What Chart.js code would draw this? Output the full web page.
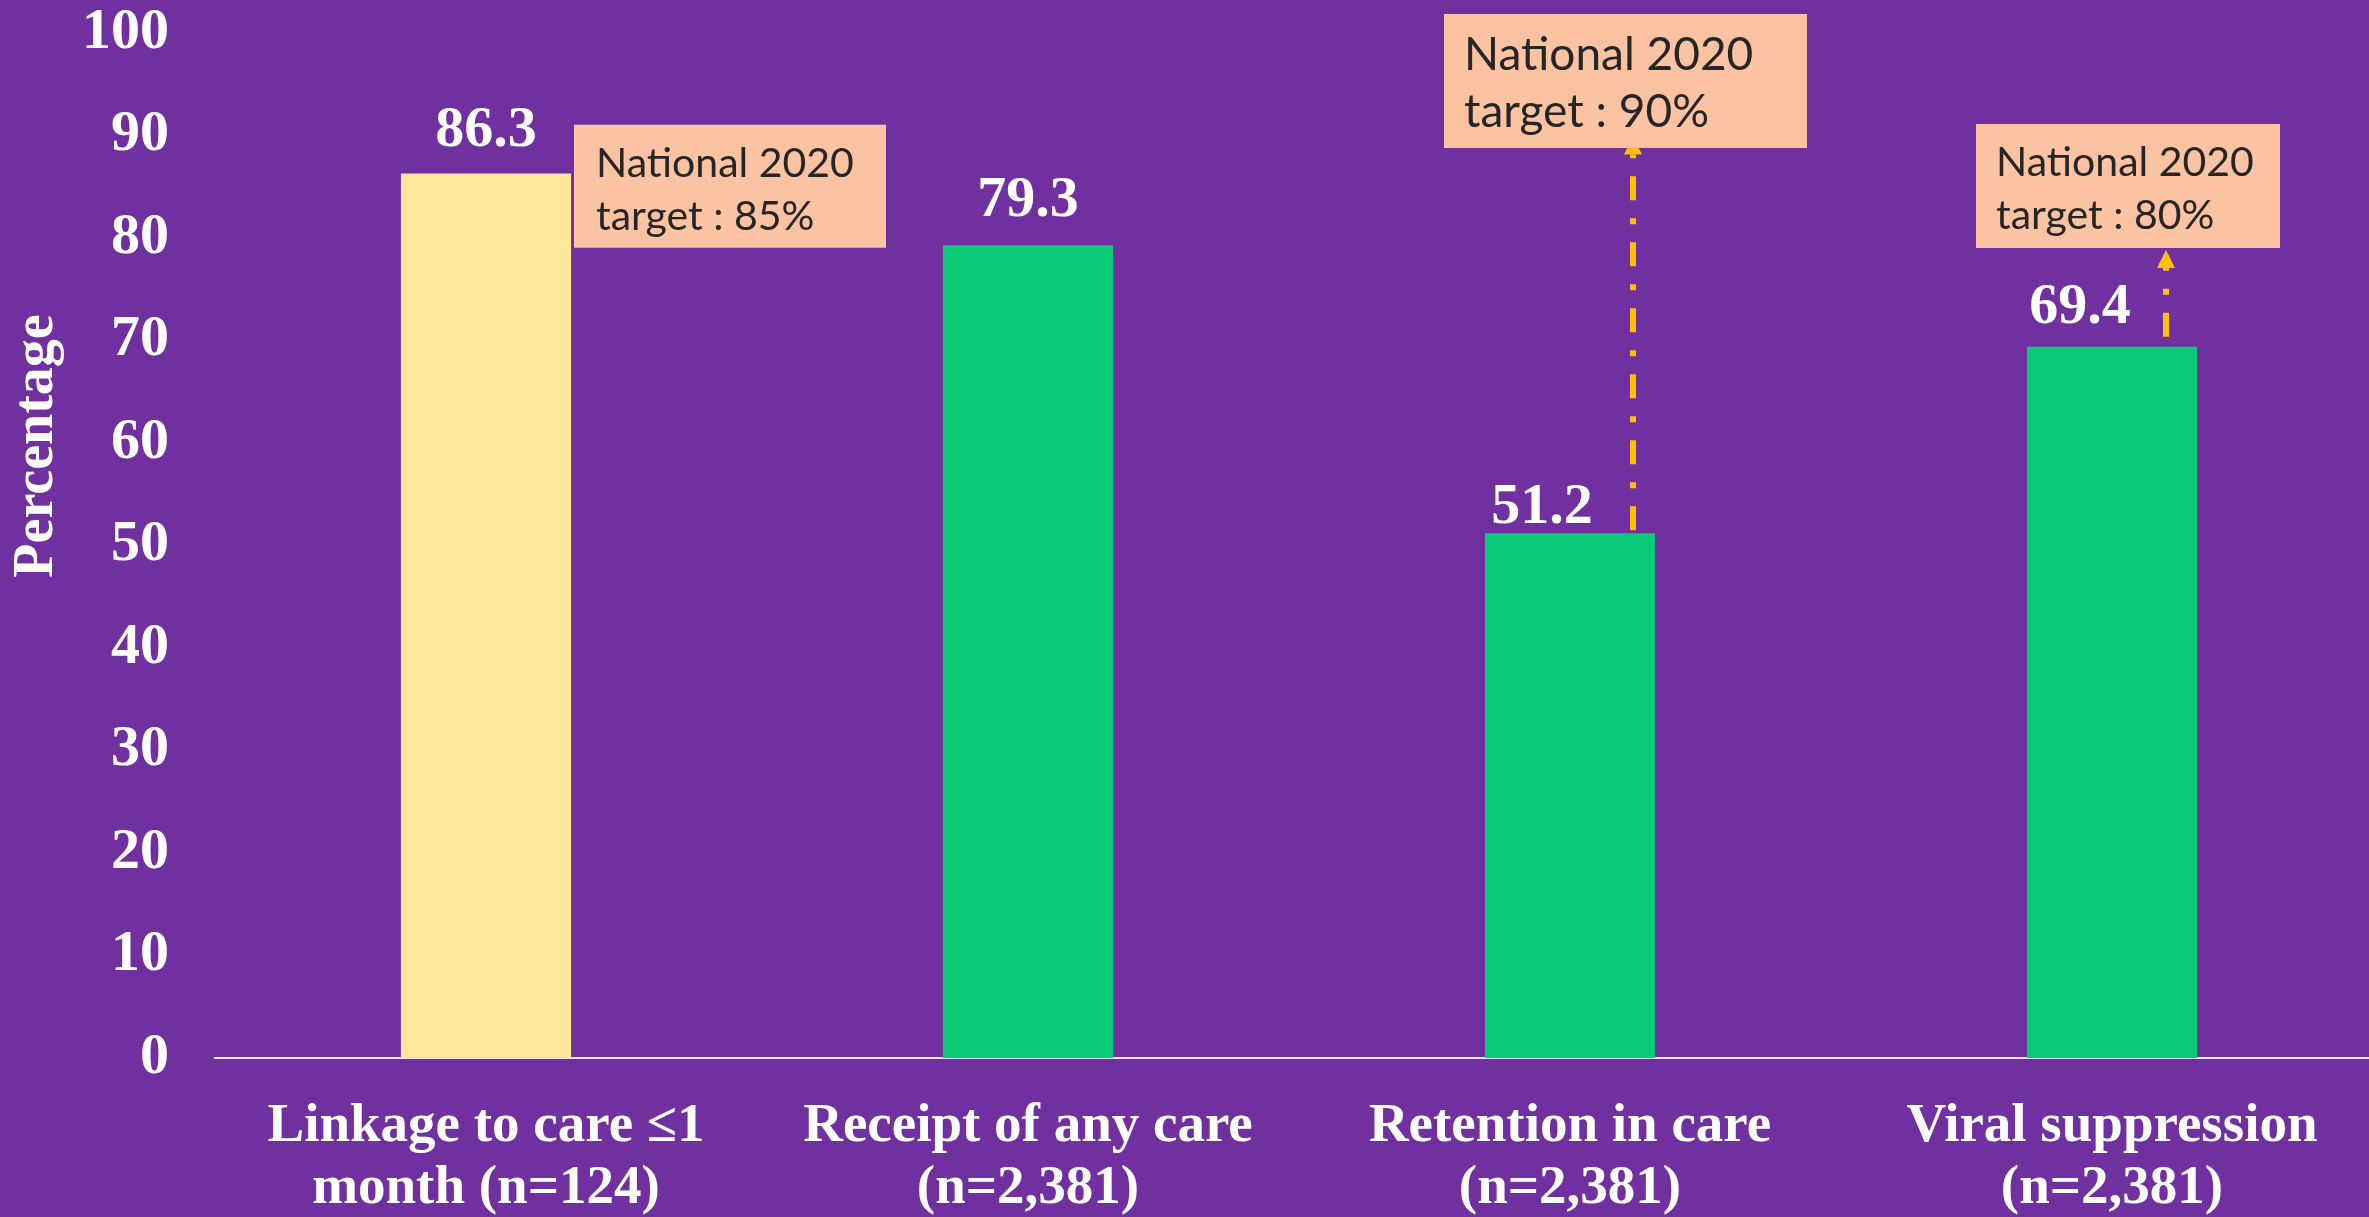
<!DOCTYPE html>
<html><head><meta charset="utf-8">
<script src="https://cdn.jsdelivr.net/npm/chart.js@4.4.1/dist/chart.umd.min.js"></script>
<style>
html,body{margin:0;padding:0;background:#7030A0;overflow:hidden;}
#wrap{position:relative;width:2390px;height:1217px;}
canvas{display:block;}
</style></head>
<body><div id="wrap"><canvas id="c" width="2390" height="1217"></canvas></div>
<script>
// ---- data ----
const categories = [
  ["Linkage to care \u22641", "month (n=124)"],
  ["Receipt of any care", "(n=2,381)"],
  ["Retention in care", "(n=2,381)"],
  ["Viral suppression", "(n=2,381)"]
];
const values = [86.3, 79.3, 51.2, 69.4];
const targets = [85, null, 90, 80];           // National 2020 targets (%)
const targetTitle = "National 2020";
const yAxisTitle = "Percentage";
const yMin = 0, yMax = 100, yStep = 10;

// ---- styles ----
const BG = '#7030A0';
const barColors = ['#FFE699', '#0ACA77', '#0ACA77', '#0ACA77'];
const serifBold = (s) => ({ family: "'Liberation Serif', 'DejaVu Serif', serif", weight: 'bold', size: s });

const labelOffsets = [[0, -42], [0, -44], [-28, -25], [-32, -39]];
const boxStyle = {
  0: { dx: 88,   dy: -62,    w: 312, h: 123, pad: 22, b1: 52, b2: 105, fs: 41 },
  2: { dx: -126, dy: -121.5, w: 363, h: 134, pad: 20, b1: 56, b2: 113, fs: 46 },
  3: { dx: -136, dy: -114,   w: 304, h: 124, pad: 20, b1: 52, b2: 105, fs: 41 }
};
const arrowStyle = {
  2: { dx: 63, startGap: 3,  tipGap: 1 },
  3: { dx: 54, startGap: 10, tipGap: 12 }
};

const bgPlugin = {
  id: 'bg',
  beforeDraw(chart) {
    const ctx = chart.ctx;
    ctx.save();
    ctx.fillStyle = BG;
    ctx.fillRect(0, 0, chart.width, chart.height);
    ctx.restore();
  }
};

const annoPlugin = {
  id: 'anno',
  afterDatasetsDraw(chart) {
    const ctx = chart.ctx;
    const ys = chart.scales.y;
    const meta = chart.getDatasetMeta(0);
    ctx.save();

    // arrows
    targets.forEach((t, i) => {
      const a = arrowStyle[i];
      if (t == null || !a) return;
      const x = meta.data[i].x + a.dx;
      const y0 = ys.getPixelForValue(values[i]) - a.startGap;
      const tip = ys.getPixelForValue(t) + a.tipGap;
      const headLen = 18, headW = 18;
      ctx.strokeStyle = '#FFC000';
      ctx.lineWidth = 6;
      ctx.lineCap = 'butt';
      ctx.setLineDash([24, 18, 6, 18]);
      ctx.beginPath();
      ctx.moveTo(x, y0);
      ctx.lineTo(x, tip + headLen);
      ctx.stroke();
      ctx.setLineDash([]);
      ctx.fillStyle = '#FFC000';
      ctx.beginPath();
      ctx.moveTo(x, tip);
      ctx.lineTo(x - headW / 2, tip + headLen);
      ctx.lineTo(x + headW / 2, tip + headLen);
      ctx.closePath();
      ctx.fill();
    });

    // target boxes
    targets.forEach((t, i) => {
      const b = boxStyle[i];
      if (t == null || !b) return;
      const left = meta.data[i].x + b.dx;
      const top = ys.getPixelForValue(t) + b.dy;
      ctx.fillStyle = '#FBC3A2';
      ctx.fillRect(left, top, b.w, b.h);
      ctx.fillStyle = '#262626';
      ctx.font = b.fs + "px Lato, 'Liberation Sans', sans-serif";
      ctx.textAlign = 'left';
      ctx.textBaseline = 'alphabetic';
      ctx.fillText(targetTitle, left + b.pad, top + b.b1);
      ctx.fillText('target : ' + t + '%', left + b.pad, top + b.b2);
    });

    // value labels
    ctx.fillStyle = '#FFFFFF';
    ctx.font = "bold 58px 'Liberation Serif', 'DejaVu Serif', serif";
    ctx.textAlign = 'center';
    ctx.textBaseline = 'middle';
    values.forEach((v, i) => {
      const x = meta.data[i].x + labelOffsets[i][0];
      const y = ys.getPixelForValue(v) + labelOffsets[i][1];
      ctx.fillText(v.toFixed(1), x, y);
    });

    // y axis title
    ctx.save();
    ctx.translate(38, 446);
    ctx.rotate(-Math.PI / 2);
    ctx.font = "bold 56px 'Liberation Serif', 'DejaVu Serif', serif";
    ctx.textAlign = 'center';
    ctx.textBaseline = 'middle';
    ctx.fillText(yAxisTitle, 0, 0);
    ctx.restore();

    ctx.restore();
  }
};

new Chart(document.getElementById('c'), {
  type: 'bar',
  data: {
    labels: categories,
    datasets: [{
      data: values,
      backgroundColor: barColors,
      borderWidth: 0,
      barPercentage: 0.314,
      categoryPercentage: 1.0
    }]
  },
  options: {
    responsive: false,
    animation: false,
    events: [],
    layout: { padding: { top: 33, right: 7, left: 0, bottom: 0 } },
    plugins: { legend: { display: false }, tooltip: { enabled: false }, title: { display: false } },
    scales: {
      x: {
        grid: { display: false, drawTicks: false },
        border: { display: true, color: '#EDE6F3', width: 2 },
        ticks: { color: '#FFFFFF', font: Object.assign(serifBold(55), { lineHeight: 62 / 55 }), padding: 38, maxRotation: 0, autoSkip: false },
        afterFit(s) { s.height = 159; s.paddingLeft = 0; s.paddingRight = 0; }
      },
      y: {
        min: yMin, max: yMax,
        grid: { display: false, drawTicks: false },
        border: { display: false },
        title: { display: false, text: yAxisTitle },
        ticks: { stepSize: yStep, color: '#FFFFFF', font: Object.assign(serifBold(58), { lineHeight: 1 }), padding: 46 },
        afterFit(s) { s.width = 215; s.paddingTop = 0; s.paddingBottom = 0; }
      }
    }
  },
  plugins: [bgPlugin, annoPlugin]
});
</script>
</body></html>
